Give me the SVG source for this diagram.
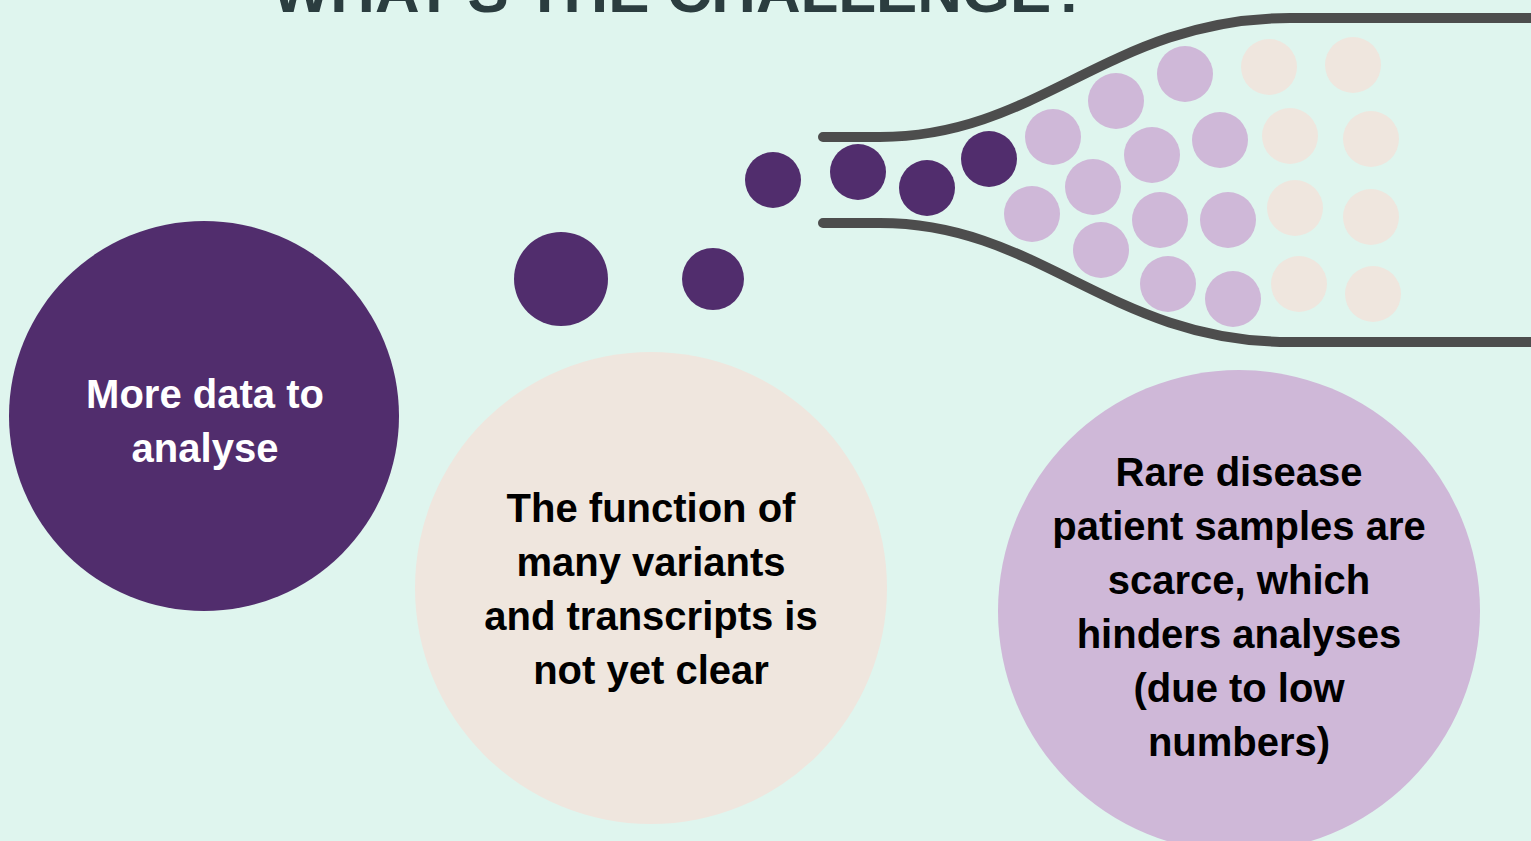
<svg xmlns="http://www.w3.org/2000/svg" width="1531" height="841" viewBox="0 0 1531 841">
  <style>
    .dark { fill: #512d6d; }
    .lilac { fill: #cfb8d8; }
    .beige { fill: #efe6de; }
    .funnel { fill: none; stroke: #4d4d4d; stroke-width: 10; stroke-linecap: round; }
    .lbl { font-family: "Liberation Sans", Arial, sans-serif; font-weight: bold; font-size: 40px; text-anchor: middle; }
    .title { font-family: "Liberation Sans", Arial, sans-serif; font-weight: bold; font-size: 62px; fill: #2b3d3f; }
  </style>
  <rect x="0" y="0" width="1531" height="841" fill="#dff5ee"/>
  <text class="title" x="272" y="12" textLength="817" lengthAdjust="spacingAndGlyphs">WHAT'S THE CHALLENGE?</text>

  <g id="funnel">
    <path class="funnel" d="M823,137 L880,137 C1040,137 1110,18 1290,18 L1540,18"/>
    <path class="funnel" d="M823,223 L880,223 C1040,223 1110,342 1290,342 L1540,342"/>
  </g>

  <g id="particles">
    <circle class="dark" cx="561" cy="279" r="47"/>
    <circle class="dark" cx="713" cy="279" r="31"/>
    <circle class="dark" cx="773" cy="180" r="28"/>
    <circle class="dark" cx="858" cy="172" r="28"/>
    <circle class="dark" cx="927" cy="188" r="28"/>
    <circle class="dark" cx="989" cy="159" r="28"/>
    <circle class="lilac" cx="1053" cy="137" r="28"/>
    <circle class="lilac" cx="1116" cy="101" r="28"/>
    <circle class="lilac" cx="1185" cy="74" r="28"/>
    <circle class="lilac" cx="1032" cy="214" r="28"/>
    <circle class="lilac" cx="1093" cy="187" r="28"/>
    <circle class="lilac" cx="1152" cy="155" r="28"/>
    <circle class="lilac" cx="1220" cy="140" r="28"/>
    <circle class="lilac" cx="1101" cy="250" r="28"/>
    <circle class="lilac" cx="1160" cy="220" r="28"/>
    <circle class="lilac" cx="1228" cy="220" r="28"/>
    <circle class="lilac" cx="1168" cy="284" r="28"/>
    <circle class="lilac" cx="1233" cy="299" r="28"/>
    <circle class="beige" cx="1269" cy="67" r="28"/>
    <circle class="beige" cx="1353" cy="65" r="28"/>
    <circle class="beige" cx="1290" cy="136" r="28"/>
    <circle class="beige" cx="1371" cy="139" r="28"/>
    <circle class="beige" cx="1295" cy="208" r="28"/>
    <circle class="beige" cx="1371" cy="217" r="28"/>
    <circle class="beige" cx="1299" cy="284" r="28"/>
    <circle class="beige" cx="1373" cy="294" r="28"/>
  </g>

  <g id="node-more-data">
    <circle class="dark" cx="204" cy="416" r="195"/>
    <text class="lbl" fill="#ffffff"><tspan x="205" y="408">More data to</tspan><tspan x="205" y="462">analyse</tspan></text>
  </g>

  <g id="node-function">
    <circle class="beige" cx="651" cy="588" r="236"/>
    <text class="lbl" fill="#000000"><tspan x="651" y="522">The function of</tspan><tspan x="651" y="576">many variants</tspan><tspan x="651" y="630">and transcripts is</tspan><tspan x="651" y="684">not yet clear</tspan></text>
  </g>

  <g id="node-rare-disease">
    <circle class="lilac" cx="1239" cy="611" r="241"/>
    <text class="lbl" fill="#000000"><tspan x="1239" y="486">Rare disease</tspan><tspan x="1239" y="540">patient samples are</tspan><tspan x="1239" y="594">scarce, which</tspan><tspan x="1239" y="648">hinders analyses</tspan><tspan x="1239" y="702">(due to low</tspan><tspan x="1239" y="756">numbers)</tspan></text>
  </g>
</svg>
